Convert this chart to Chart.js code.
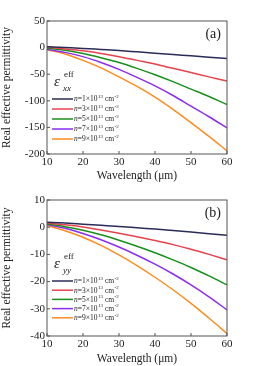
<!DOCTYPE html>
<html>
<head>
<meta charset="utf-8">
<script src="https://cdn.jsdelivr.net/npm/chart.js@4/dist/chart.umd.min.js"></script>
<style>
  html, body { margin: 0; padding: 0; background: #fff; }
  .box { position: relative; width: 262px; height: 183px; }
</style>
</head>
<body>
<div class="box"><canvas id="chartXX" width="262" height="183"></canvas></div>
<div class="box"><canvas id="chartYY" width="262" height="183"></canvas></div>
<script>
// Data
const wavelength = [10, 15, 20, 25, 30, 35, 40, 45, 50, 55, 60];
const densities = ['1', '3', '5', '7', '9'];
const colors = ['#2b2b58', '#e8434c', '#17901b', '#8d2cef', '#ff8b1d'];

// (a) eps_xx
const xxN1 = [1.5, 0, -1.5, -3.5, -5.5, -8, -10.5, -13, -15.5, -18, -20.5];
const xxN3 = [0.5, -2.5, -6, -11, -17, -24, -31, -39, -47, -55, -63];
const xxN5 = [-1, -5, -11, -19, -28, -39, -51, -64, -78, -92, -107];
const xxN7 = [-3, -9, -17, -28, -41, -56, -72, -90, -110, -130, -151];
const xxN9 = [-4, -12, -24, -38, -55, -73, -93, -116, -141, -167, -194];
const xxTicks = [50, 0, -50, -100, -150, -200];

// (b) eps_yy
const yyN1 = [1.8, 1.5, 1.1, 0.7, 0.3, -0.2, -0.7, -1.2, -1.8, -2.4, -3.0];
const yyN3 = [1.5, 0.9, 0.1, -1, -2.2, -3.5, -4.9, -6.4, -8.1, -10, -12];
const yyN5 = [1.2, 0.2, -1.1, -2.8, -4.8, -7.0, -9.4, -12.0, -14.8, -17.9, -21.2];
const yyN7 = [1.0, -0.4, -2.3, -4.6, -7.3, -10.3, -13.6, -17.2, -21.2, -25.6, -30.4];
const yyN9 = [0.6, -1.3, -3.7, -6.7, -10.2, -14.1, -18.4, -23.0, -28.0, -33.4, -39.1];
const yyTicks = [10, 0, -10, -20, -30, -40];

const serif = '"Liberation Serif", "Times New Roman", serif';

function makeDatasets(series) {
    return series.map(function (vals, i) {
        return {
            label: 'n=' + densities[i] + '×10^13 cm^-2',
            data: wavelength.map(function (w, j) { return { x: w, y: vals[j] }; }),
            borderColor: colors[i],
            backgroundColor: colors[i],
            borderWidth: 1.5,
            pointRadius: 0,
            cubicInterpolationMode: 'monotone',
            fill: false
        };
    });
}

// frame, inward ticks, panel tag and legend
const framePlugin = {
    id: 'frame',
    afterDraw: function (chart, args, opts) {
        const ctx = chart.ctx;
        const a = chart.chartArea;
        const xs = chart.scales.x, ys = chart.scales.y;
        ctx.save();
        ctx.strokeStyle = '#555';
        ctx.lineWidth = 1;
        ctx.strokeRect(a.left, a.top, a.right - a.left, a.bottom - a.top);
        ctx.beginPath();
        xs.ticks.forEach(function (t) {
            const px = xs.getPixelForValue(t.value);
            ctx.moveTo(px, a.bottom); ctx.lineTo(px, a.bottom - 3);
        });
        ys.ticks.forEach(function (t) {
            const py = ys.getPixelForValue(t.value);
            ctx.moveTo(a.left, py); ctx.lineTo(a.left + 3, py);
        });
        ctx.stroke();

        // panel tag
        ctx.fillStyle = '#222';
        ctx.font = '14px ' + serif;
        ctx.textAlign = 'right';
        ctx.textBaseline = 'middle';
        ctx.fillText(opts.tag, a.right - 6, a.top + 13);

        // legend header epsilon
        ctx.textAlign = 'left';
        ctx.textBaseline = 'alphabetic';
        const hx = a.left + 7, hy = a.bottom - 68;
        ctx.font = 'italic 15px ' + serif;
        ctx.fillText('ε', hx, hy);
        ctx.font = '9px ' + serif;
        ctx.fillText('eff', hx + 10, hy - 9);
        ctx.font = 'italic 9px ' + serif;
        ctx.fillText(opts.sub, hx + 9, hy + 5);

        // legend entries
        chart.data.datasets.forEach(function (ds, i) {
            const y = a.bottom - 55 + i * opts.gap;
            ctx.strokeStyle = ds.borderColor;
            ctx.lineWidth = 1.5;
            ctx.beginPath();
            ctx.moveTo(a.left + 5, y); ctx.lineTo(a.left + 26, y);
            ctx.stroke();
            ctx.fillStyle = '#222';
            ctx.textBaseline = 'middle';
            let x = a.left + 27;
            ctx.font = 'italic 7.5px ' + serif;
            ctx.fillText('n', x, y + 0.5); x += ctx.measureText('n').width;
            ctx.font = '7.5px ' + serif;
            const main = '=' + densities[i] + '×10';
            ctx.fillText(main, x, y + 0.5); x += ctx.measureText(main).width;
            ctx.font = '5px ' + serif;
            ctx.fillText('13', x + 0.5, y - 2.5); x += ctx.measureText('13').width + 2.5;
            ctx.font = '7.5px ' + serif;
            ctx.fillText('cm', x, y + 0.5); x += ctx.measureText('cm').width;
            ctx.font = '5px ' + serif;
            ctx.fillText('-2', x + 0.5, y - 2.5);
        });
        ctx.restore();
    }
};

function makeChart(id, series, ticks, tag, sub, topPad, xHeight, gap) {
    return new Chart(document.getElementById(id), {
        type: 'line',
        data: { datasets: makeDatasets(series) },
        options: {
            responsive: false,
            animation: false,
            events: [],
            layout: { padding: { top: topPad, right: 35, left: 0, bottom: 0 } },
            plugins: {
                legend: { display: false },
                tooltip: { enabled: false },
                frame: { tag: tag, sub: sub, gap: gap }
            },
            scales: {
                x: {
                    type: 'linear',
                    min: 10, max: 60,
                    grid: { display: false, drawTicks: false },
                    border: { display: false },
                    ticks: { stepSize: 10, color: '#222', font: { family: serif, size: 11 }, padding: 2, maxRotation: 0 },
                    title: { display: true, text: 'Wavelength (μm)', color: '#222', font: { family: serif, size: 11.5 }, padding: { top: 1, bottom: 0 } },
                    afterFit: function (scale) { scale.height = xHeight; }
                },
                y: {
                    min: ticks[ticks.length - 1], max: ticks[0],
                    grid: { display: false, drawTicks: false },
                    border: { display: false },
                    afterBuildTicks: function (scale) {
                        scale.ticks = ticks.map(function (v) { return { value: v }; });
                    },
                    ticks: { color: '#222', font: { family: serif, size: 11 }, padding: 2 },
                    title: { display: true, text: 'Real effective permittivity', color: '#222', font: { family: serif, size: 11.5 }, padding: { top: 0, bottom: 2 } },
                    afterFit: function (scale) { scale.width = 47; }
                }
            }
        },
        plugins: [framePlugin]
    });
}

makeChart('chartXX', [xxN1, xxN3, xxN5, xxN7, xxN9], xxTicks, '(a)', 'xx', 21, 29, 10);
makeChart('chartYY', [yyN1, yyN3, yyN5, yyN7, yyN9], yyTicks, '(b)', 'yy', 17, 30, 9.2);
</script>
</body>
</html>
